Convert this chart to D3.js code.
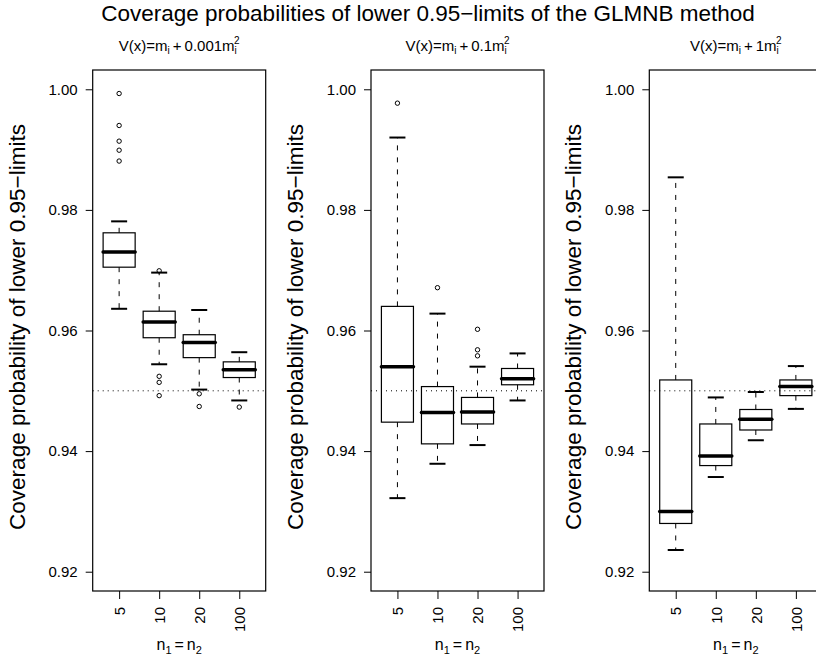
<!DOCTYPE html>
<html>
<head>
<meta charset="utf-8">
<script src="https://cdn.jsdelivr.net/npm/d3@7"></script>
<style>
  body { margin: 0; background: #fff; }
</style>
</head>
<body>
<svg id="svg"></svg>
<script>
// group labels on the x axis (n1 = n2)
var groups = ["5", "10", "20", "100"];
var yTicks = [0.92, 0.94, 0.96, 0.98, 1.00];
var refLine = 0.95;

// box stats per group: [lower whisker, q1, median, q3, upper whisker]
var statsA = [
  [0.9636, 0.9705, 0.9730, 0.9762, 0.9781],
  [0.9544, 0.9588, 0.9614, 0.9632, 0.9696],
  [0.9502, 0.9555, 0.9580, 0.9593, 0.9634],
  [0.9484, 0.9522, 0.9535, 0.9548, 0.9564]
];
var outA = [
  [0.9993, 0.9940, 0.9914, 0.9899, 0.9881],
  [0.9699, 0.9524, 0.9514, 0.9492],
  [0.9495, 0.9474],
  [0.9473]
];

var statsB = [
  [0.9322, 0.9448, 0.9540, 0.9640, 0.9920],
  [0.9379, 0.9412, 0.9464, 0.9507, 0.9628],
  [0.9410, 0.9445, 0.9465, 0.9489, 0.9540],
  [0.9484, 0.9510, 0.9520, 0.9537, 0.9562]
];
var outB = [
  [0.9977],
  [0.9671],
  [0.9602, 0.9568, 0.9558],
  []
];

var statsC = [
  [0.9236, 0.9280, 0.9300, 0.9518, 0.9854],
  [0.9357, 0.9376, 0.9392, 0.9445, 0.9489],
  [0.9418, 0.9435, 0.9453, 0.9469, 0.9498],
  [0.9470, 0.9492, 0.9507, 0.9518, 0.9541]
];
var outC = [[], [], [], []];

// coefficient of m_i^2 in each panel title
var coefs = ["0.001", "0.1", "1"];

var panels = [
  { coef: coefs[0], stats: statsA, out: outA },
  { coef: coefs[1], stats: statsB, out: outB },
  { coef: coefs[2], stats: statsC, out: outC }
];

var width = 816, height = 660;
var fam = "'Liberation Sans', Arial, Helvetica, sans-serif";

var svg = d3.select("#svg")
    .attr("width", width)
    .attr("height", height)
    .style("font-family", fam);

svg.append("rect").attr("width", width).attr("height", height).attr("fill", "#fff");

var plotTop = 70, plotBottom = 591, plotW = 173;
var firstLeft = 92.7, panelStep = 278.3;

var y = d3.scaleLinear().domain([0.9168, 1.0032]).range([plotBottom, plotTop]);
var x = d3.scaleLinear().domain([0.34, 4.66]).range([0, plotW]);
var halfBox = x(1.4) - x(1);

// outer title
svg.append("text")
    .attr("x", 428).attr("y", 21)
    .attr("text-anchor", "middle")
    .attr("font-size", 22.5)
    .text("Coverage probabilities of lower 0.95\u2212limits of the GLMNB method");

panels.forEach(function(p, i) {
  var left = firstLeft + i * panelStep;
  var g = svg.append("g").attr("transform", "translate(" + left + ",0)");

  // panel title V(x)=m_i + c m_i^2
  var t = g.append("text")
      .attr("x", plotW / 2).attr("y", 51)
      .attr("text-anchor", "middle")
      .attr("font-size", 15);
  t.append("tspan").text("V(x)=m");
  t.append("tspan").attr("font-size", 10).attr("dy", 3).text("i");
  t.append("tspan").attr("dy", -3).attr("dx", 3).text("+");
  t.append("tspan").attr("dx", 3).text(p.coef + "m");
  t.append("tspan").attr("font-size", 10).attr("dy", 3).text("i");
  t.append("tspan").attr("font-size", 10).attr("dx", -2.8).attr("dy", -10).text("2");

  // y axis
  var ya = g.append("g")
      .call(d3.axisLeft(y).tickValues(yTicks).tickSize(7).tickPadding(8).tickFormat(d3.format(".2f")));
  ya.select(".domain").remove();
  ya.attr("font-size", 15).attr("font-family", fam);
  ya.selectAll("line").attr("stroke", "#000");
  ya.selectAll("text").attr("fill", "#000");

  // x axis
  var xa = g.append("g")
      .attr("transform", "translate(0," + plotBottom + ")")
      .call(d3.axisBottom(x).tickValues([1, 2, 3, 4]).tickSize(8)
        .tickFormat(function(d) { return groups[d - 1]; }));
  xa.select(".domain").remove();
  xa.attr("font-size", 15).attr("font-family", fam);
  xa.selectAll("line").attr("stroke", "#000");
  xa.selectAll("text")
      .attr("fill", "#000")
      .attr("transform", "rotate(-90)")
      .attr("text-anchor", "end")
      .attr("x", -16).attr("y", 0)
      .attr("dy", "0.35em");

  // axis titles
  g.append("text")
      .attr("transform", "translate(-68,327) rotate(-90)")
      .attr("text-anchor", "middle")
      .attr("font-size", 22.5)
      .text("Coverage probability of lower 0.95\u2212limits");

  var xt = g.append("text")
      .attr("x", plotW / 2).attr("y", 650)
      .attr("text-anchor", "middle")
      .attr("font-size", 16);
  xt.append("tspan").text("n");
  xt.append("tspan").attr("font-size", 11).attr("dy", 4).text("1");
  xt.append("tspan").attr("dy", -4).attr("dx", 3).text("=");
  xt.append("tspan").attr("dx", 3).text("n");
  xt.append("tspan").attr("font-size", 11).attr("dy", 4).text("2");

  // boxes
  p.stats.forEach(function(s, j) {
    var cx = x(j + 1);
    var bg = g.append("g");
    // whiskers
    bg.append("line").attr("x1", cx).attr("x2", cx).attr("y1", y(s[3])).attr("y2", y(s[4]))
        .attr("stroke", "#000").attr("stroke-dasharray", "5,7");
    bg.append("line").attr("x1", cx).attr("x2", cx).attr("y1", y(s[1])).attr("y2", y(s[0]))
        .attr("stroke", "#000").attr("stroke-dasharray", "5,7");
    // staples
    [s[0], s[4]].forEach(function(v) {
      bg.append("line").attr("x1", cx - halfBox / 2).attr("x2", cx + halfBox / 2)
          .attr("y1", y(v)).attr("y2", y(v))
          .attr("stroke", "#000").attr("stroke-width", 2);
    });
    bg.append("rect")
        .attr("x", cx - halfBox).attr("width", 2 * halfBox)
        .attr("y", y(s[3])).attr("height", y(s[1]) - y(s[3]))
        .attr("fill", "none").attr("stroke", "#000").attr("stroke-width", 1.2);
    bg.append("line").attr("x1", cx - halfBox).attr("x2", cx + halfBox)
        .attr("y1", y(s[2])).attr("y2", y(s[2]))
        .attr("stroke", "#000").attr("stroke-width", 3.5).attr("stroke-linecap", "round");
    bg.selectAll("circle").data(p.out[j]).enter().append("circle")
        .attr("cx", cx).attr("cy", function(d) { return y(d); })
        .attr("r", 2.2).attr("fill", "none").attr("stroke", "#000");
  });

  // reference line
  g.append("line")
      .attr("x1", 0).attr("x2", plotW)
      .attr("y1", y(refLine)).attr("y2", y(refLine))
      .attr("stroke", "#000").attr("stroke-dasharray", "1,4");

  // plot frame
  g.append("rect")
      .attr("x", 0).attr("y", plotTop)
      .attr("width", plotW).attr("height", plotBottom - plotTop)
      .attr("fill", "none").attr("stroke", "#000").attr("stroke-width", 1.2);
});
</script>
</body>
</html>
